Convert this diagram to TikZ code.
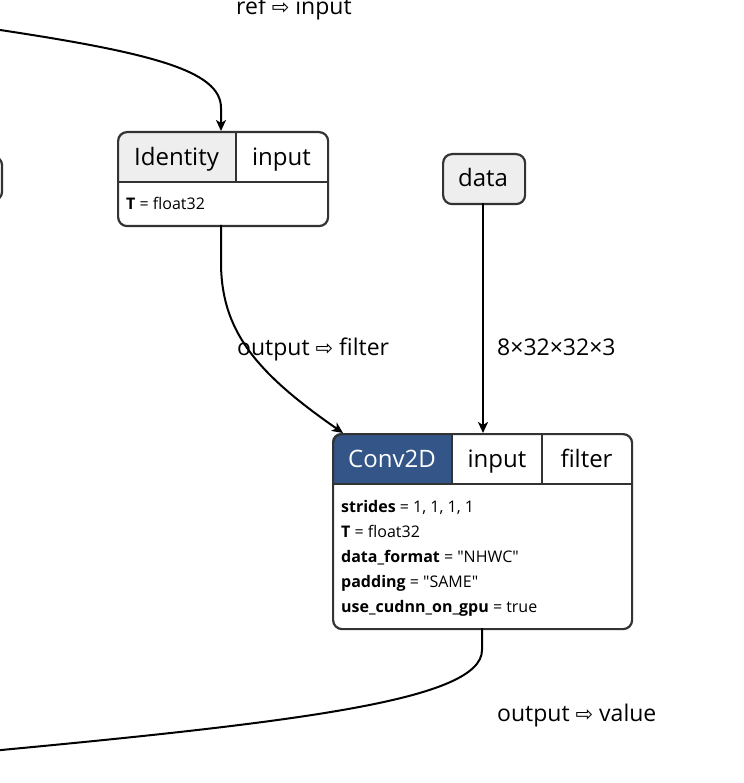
\documentclass[tikz,border=0pt]{standalone}
\usepackage{fontspec}
\newfontfamily\osans{Open Sans}
\newfontfamily\arrfont{DejaVu Sans}
\usetikzlibrary{arrows.meta}
\definecolor{bordc}{HTML}{333333}
\definecolor{headgray}{HTML}{EEEEEE}
\definecolor{convblue}{HTML}{335588}
\newcommand{\darr}{{\arrfont\fontsize{21pt}{21pt}\selectfont ⇨}}
\tikzset{
  boxline/.style={draw=bordc, line width=2.2pt},
  hdtext/.style={anchor=base, inner sep=0pt, font=\osans\fontsize{24pt}{24pt}\selectfont},
  attr/.style={anchor=base west, inner sep=0pt, font=\osans\fontsize{16pt}{16pt}\selectfont},
  elabel/.style={anchor=base west, inner sep=0pt, font=\osans\fontsize{23pt}{23pt}\selectfont},
  edge/.style={draw=black, line width=2pt, -{Stealth[length=11pt,width=10pt,inset=3pt]}},
  plainedge/.style={draw=black, line width=2pt},
}
\begin{document}
\begin{tikzpicture}[x=1pt,y=-1pt]
\useasboundingbox[fill=white] (0,0) rectangle (743,783);

% partial node at left edge
\draw[boxline, rounded corners=8pt] (-60,157) rectangle (2,200);

% ---------- Identity ----------
\begin{scope}
  \clip[rounded corners=9pt] (117,131) rectangle (327,225);
  \fill[headgray] (117,131) rectangle (236,182);
\end{scope}
\node[boxline, rounded corners=9pt, minimum width=210pt, minimum height=94pt, anchor=north west, inner sep=0pt] (identity) at (117,131) {};
\draw[boxline] (117,182) -- (327,182);
\draw[boxline] (236,131) -- (236,182);
\node[hdtext] (idname) at (176.5,166) {Identity};
\node[hdtext] (idin) at (281.5,166) {input};
\node[attr] (idT) at (126,210) {\textbf{T} = float32};
\coordinate (idtop) at (221,131);
\coordinate (idbot) at (221,225);

% ---------- data ----------
\node[boxline, fill=headgray, rounded corners=9pt, minimum width=82pt, minimum height=50pt, anchor=north west, inner sep=0pt] (data) at (442,153) {};
\node[hdtext] (dataname) at (483,187) {data};
\coordinate (databot) at (483,203);

% ---------- Conv2D ----------
\begin{scope}
  \clip[rounded corners=9pt] (332,433) rectangle (631,628);
  \fill[convblue] (332,433) rectangle (452,484);
\end{scope}
\node[boxline, rounded corners=9pt, minimum width=299pt, minimum height=195pt, anchor=north west, inner sep=0pt] (conv) at (332,433) {};
\draw[boxline] (332,484) -- (631,484);
\draw[boxline] (452,433) -- (452,484);
\draw[boxline] (542,433) -- (542,484);
\node[hdtext, text=white] (convname) at (392,467) {Conv2D};
\node[hdtext] (convin) at (497,467) {input};
\node[hdtext] (convfilter) at (586.5,467) {filter};
\node[attr] (a1) at (341,512) {\textbf{strides} = 1, 1, 1, 1};
\node[attr] (a2) at (341,537) {\textbf{T} = float32};
\node[attr] (a3) at (341,562) {\textbf{data\_format} = "NHWC"};
\node[attr] (a4) at (341,587) {\textbf{padding} = "SAME"};
\node[attr] (a5) at (341,612) {\textbf{use\_cudnn\_on\_gpu} = true};
\coordinate (convtopL) at (343,433);
\coordinate (convtopin) at (483,433);
\coordinate (convbot) at (482,628);

% ---------- free ends ----------
\coordinate (refsrc) at (-20,27);
\coordinate (valdst) at (-20,752);

% ---------- connectors ----------
\draw[edge] (refsrc) .. controls (150,52) and (221,70) .. (221,108) -- (idtop);
\draw[edge] (idbot) -- (221,262) .. controls (221,330) and (255,372) .. (convtopL);
\draw[edge] (databot) -- (convtopin);
\draw[plainedge] (convbot) -- (482,650) .. controls (482,700) and (300,722) .. (valdst);

% ---------- edge labels ----------
\node[elabel] (l1) at (236,15) {ref \darr{} input};
\node[elabel] (l2) at (237,355) {output \darr{} filter};
\node[elabel] (l3) at (497,355) {8×32×32×3};
\node[elabel] (l4) at (497,721) {output \darr{} value};
\end{tikzpicture}
\end{document}
